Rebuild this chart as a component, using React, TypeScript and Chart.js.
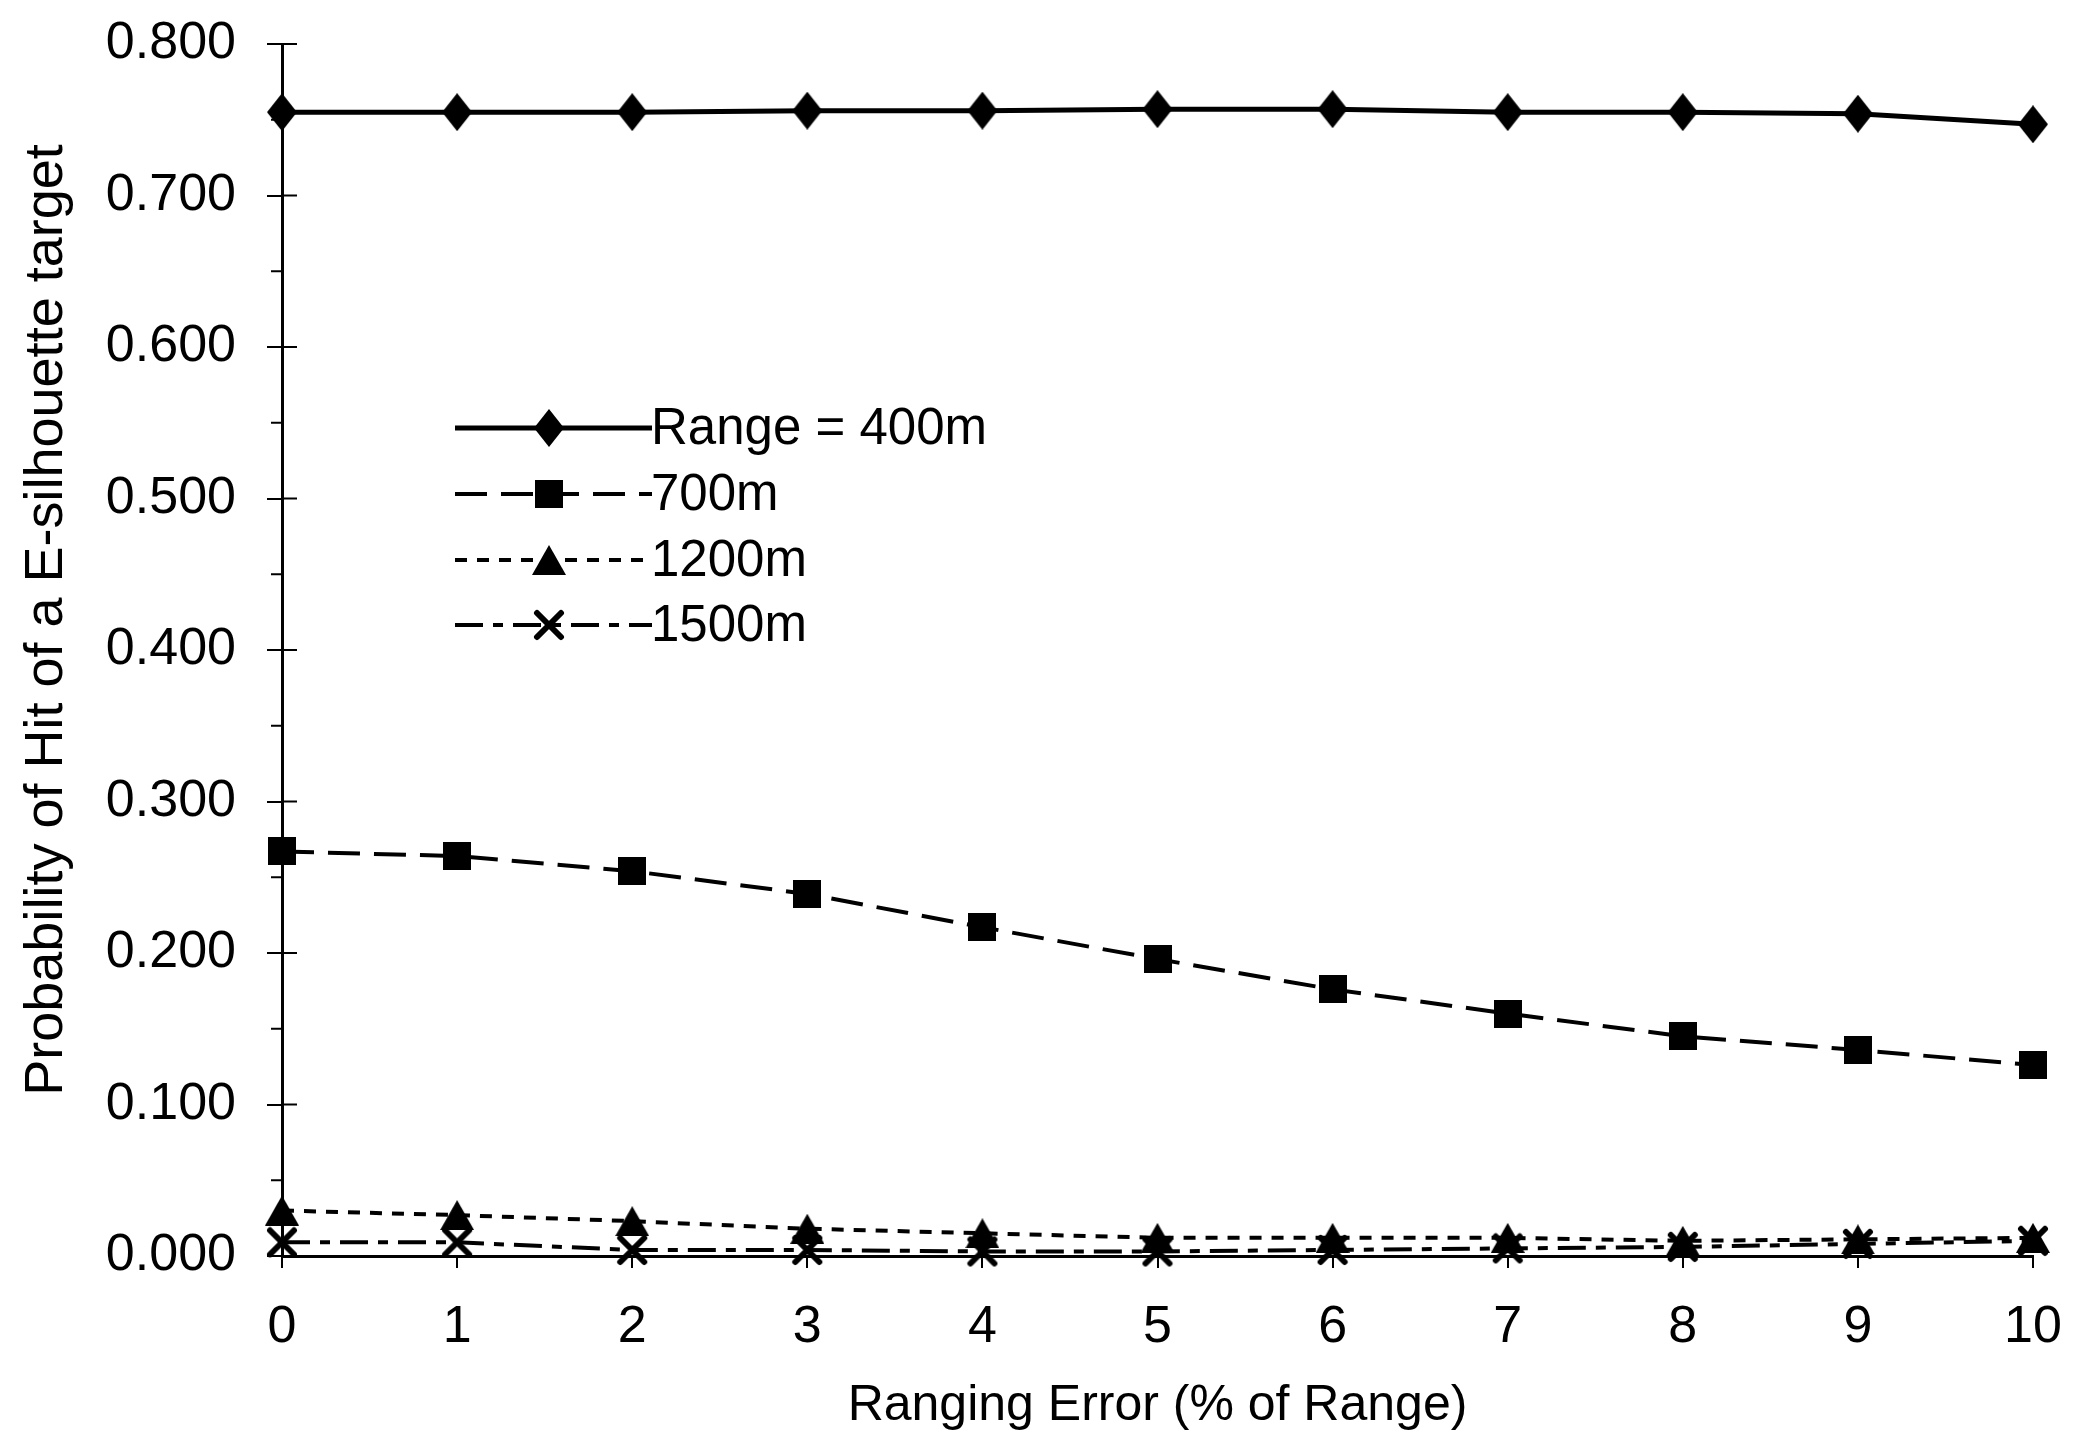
import React, { useEffect, useRef } from 'react';
import { Chart, registerables } from 'chart.js';

Chart.register(...registerables);

// ---- Data ----
const xLabels = ['0', '1', '2', '3', '4', '5', '6', '7', '8', '9', '10'];
const range400 = [0.755, 0.755, 0.755, 0.756, 0.756, 0.757, 0.757, 0.755, 0.755, 0.754, 0.747];
const range700 = [0.267, 0.264, 0.254, 0.239, 0.217, 0.196, 0.176, 0.16, 0.145, 0.136, 0.126];
const range1200 = [0.03, 0.027, 0.023, 0.018, 0.015, 0.012, 0.012, 0.012, 0.01, 0.011, 0.012];
const range1500 = [0.009, 0.009, 0.004, 0.004, 0.003, 0.003, 0.004, 0.005, 0.006, 0.008, 0.01];
const seriesLabels = ['Range = 400m', '700m', '1200m', '1500m'];
const yTitle = 'Probability of Hit of a E-silhouette target';
const xTitle = 'Ranging Error (% of Range)';

const FONT = '"Liberation Sans", Arial, Helvetica, sans-serif';

function makeMarker(kind: string): HTMLCanvasElement {
  const c = document.createElement('canvas');
  let w = 30, h = 30;
  if (kind === 'diamond') { w = 30; h = 38; }
  if (kind === 'square') { w = 28; h = 28; }
  if (kind === 'triangle') { w = 34; h = 30; }
  if (kind === 'cross') { w = 32; h = 32; }
  c.width = w; c.height = h;
  const g = c.getContext('2d')!;
  g.fillStyle = '#000';
  g.strokeStyle = '#000';
  g.beginPath();
  if (kind === 'diamond') {
    g.moveTo(w / 2, 0); g.lineTo(w, h / 2); g.lineTo(w / 2, h); g.lineTo(0, h / 2); g.closePath(); g.fill();
  } else if (kind === 'square') {
    g.fillRect(0, 0, w, h);
  } else if (kind === 'triangle') {
    g.moveTo(w / 2, 0); g.lineTo(w, h); g.lineTo(0, h); g.closePath(); g.fill();
  } else {
    g.lineWidth = 6; g.lineCap = 'round';
    g.moveTo(4, 4); g.lineTo(w - 4, h - 4);
    g.moveTo(w - 4, 4); g.lineTo(4, h - 4);
    g.stroke();
  }
  return c;
}

export default function App() {
  const ref = useRef<HTMLCanvasElement>(null);

  useEffect(() => {
    const canvas = ref.current!;
    const markers = [makeMarker('diamond'), makeMarker('square'), makeMarker('triangle'), makeMarker('cross')];
    const dashes = [[], [32, 14], [12, 10], [28, 10, 10, 10]];
    const widths = [5, 4, 4, 4];
    const values = [range400, range700, range1200, range1500];

    const tickPlugin = {
      id: 'extraTicks',
      afterDraw(chart: any) {
        const ctx = chart.ctx;
        const y = chart.scales.y;
        const ax = chart.chartArea.left;
        ctx.save();
        ctx.strokeStyle = '#000';
        ctx.lineWidth = 2;
        for (let i = 0; i <= 16; i++) {
          const v = i * 0.05;
          const py = y.getPixelForValue(v);
          ctx.beginPath();
          if (i % 2 === 0) {
            ctx.moveTo(ax, py); ctx.lineTo(ax + 15, py);
          } else {
            ctx.moveTo(ax - 11, py); ctx.lineTo(ax, py);
          }
          ctx.stroke();
        }
        ctx.restore();
      },
    };

    const legendPlugin = {
      id: 'customLegend',
      afterDraw(chart: any) {
        const ctx = chart.ctx;
        const rows = [428, 494, 560, 625];
        const x0 = 455, x1 = 652, mx = 549;
        ctx.save();
        chart.data.datasets.forEach((ds: any, i: number) => {
          const yy = rows[i];
          ctx.strokeStyle = '#000';
          ctx.lineWidth = ds.borderWidth;
          ctx.setLineDash(ds.borderDash || []);
          ctx.beginPath();
          ctx.moveTo(x0, yy); ctx.lineTo(x1, yy);
          ctx.stroke();
          ctx.setLineDash([]);
          const m = ds.pointStyle as HTMLCanvasElement;
          ctx.drawImage(m, mx - m.width / 2, yy - m.height / 2);
          ctx.fillStyle = '#000';
          ctx.font = `51px ${FONT}`;
          ctx.textAlign = 'left';
          ctx.textBaseline = 'middle';
          ctx.fillText(ds.label, 651, yy + 2);
        });
        ctx.restore();
      },
    };

    const chart = new Chart(canvas, {
      type: 'line',
      data: {
        labels: xLabels,
        datasets: values.map((v, i) => ({
          label: seriesLabels[i],
          data: v,
          borderColor: '#000',
          backgroundColor: '#000',
          borderWidth: widths[i],
          borderDash: dashes[i],
          pointStyle: markers[i] as any,
          pointRadius: 15,
          tension: 0,
          clip: false as any,
          fill: false,
        })),
      },
      options: {
        animation: false,
        responsive: false,
        devicePixelRatio: 1,
        events: [],
        layout: { padding: { top: 44, right: 51, left: 0, bottom: 0 } },
        plugins: {
          legend: { display: false },
          tooltip: { enabled: false },
        },
        scales: {
          x: {
            type: 'category',
            offset: false,
            afterFit: (s: any) => { s.height = 190; s.paddingLeft = 0; s.paddingRight = 0; },
            ticks: { font: { size: 52, family: FONT }, color: '#000', padding: 28, autoSkip: false, maxRotation: 0 },
            grid: { drawOnChartArea: false, tickLength: 12, color: '#000', lineWidth: 2 },
            border: { display: true, color: '#000', width: 3 },
            title: { display: true, text: xTitle, font: { size: 50, family: FONT }, color: '#000', padding: { top: 0, bottom: 10 } },
          },
          y: {
            type: 'linear',
            min: 0,
            max: 0.8,
            afterFit: (s: any) => { s.width = 282; s.paddingTop = 0; s.paddingBottom = 0; },
            ticks: {
              stepSize: 0.1,
              font: { size: 52, family: FONT },
              color: '#000',
              padding: 31,
              callback: (v: any) => Number(v).toFixed(3),
            },
            grid: { drawOnChartArea: false, tickLength: 15, color: '#000', lineWidth: 2 },
            border: { display: true, color: '#000', width: 3 },
            title: { display: true, text: '    ' + yTitle, font: { size: 54, family: FONT }, color: '#000', padding: { top: 15, bottom: 0 } },
          },
        },
      },
      plugins: [tickPlugin, legendPlugin],
    });
    return () => chart.destroy();
  }, []);

  return (
    <div style={{ position: 'absolute', left: 0, top: 0, width: 2084, height: 1446, background: '#fff' }}>
      <canvas ref={ref} width={2084} height={1446} style={{ width: 2084, height: 1446, display: 'block' }} />
    </div>
  );
}
